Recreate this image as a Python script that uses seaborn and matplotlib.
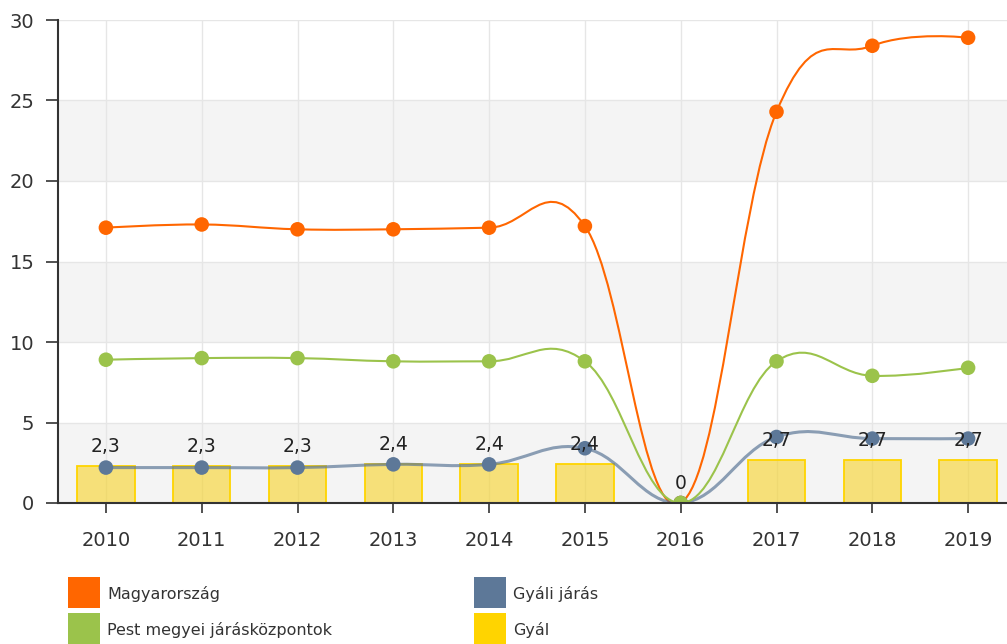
import numpy as np
import pandas as pd
import matplotlib
matplotlib.use("Agg")
import matplotlib.pyplot as plt
from matplotlib.path import Path
from matplotlib.patches import PathPatch, Rectangle
from matplotlib.colors import to_rgba
import seaborn as sns

years = ["2010", "2011", "2012", "2013", "2014", "2015", "2016", "2017", "2018", "2019"]
magyarorszag = [17.1, 17.3, 17.0, 17.0, 17.1, 17.2, 0.0, 24.3, 28.4, 28.9]
pest_megyei = [8.9, 9.0, 9.0, 8.8, 8.8, 8.8, 0.0, 8.8, 7.9, 8.4]
gyali_jaras = [2.2, 2.2, 2.2, 2.4, 2.4, 3.4, 0.0, 4.1, 4.0, 4.0]
gyal = [2.3, 2.3, 2.3, 2.4, 2.4, 2.4, 0.0, 2.7, 2.7, 2.7]
y_ticks = [0, 5, 10, 15, 20, 25, 30]
legend_labels = ["Magyarország", "Pest megyei járásközpontok", "Gyáli járás", "Gyál"]

C_ORANGE = "#FF6600"
C_GREEN = "#9BC34B"
C_BLUE = "#5D7898"
C_YELLOW = "#FFD400"

sns.set_theme(style="white")
plt.rcParams["font.family"] = ["DejaVu Sans"]

W, H = 1007, 644
fig = plt.figure(figsize=(W / 100, H / 100), dpi=100)
ax = fig.add_axes([58 / W, 141 / H, 958 / W, 483 / H])

df = pd.DataFrame({"year": years, "Gyál": gyal})
sns.barplot(data=df, x="year", y="Gyál", ax=ax, color=C_YELLOW, width=0.6,
            saturation=1, linewidth=1.3, zorder=2)
for p in list(ax.patches):
    p.set_alpha(None)
    p.set_facecolor(to_rgba("#F8CE00", 0.5))
    p.set_edgecolor(C_YELLOW)
    p.set_zorder(2)

# alternating bands and grid
for lo in (0, 10, 20):
    ax.axhspan(lo, lo + 5, color="#F4F4F4", zorder=0, lw=0)
for yv in y_ticks:
    ax.axhline(yv, color="#E6E6E6", lw=1, zorder=0.5)
for i in range(len(years)):
    ax.axvline(i, color="#E6E6E6", lw=1, zorder=0.5)


def spline_path(xs, ys):
    s, d = 1.5, 2.5
    n = len(xs)
    lc = [None] * n
    rc = [None] * n
    for i in range(1, n - 1):
        px, py = xs[i], ys[i]
        lx, ly = xs[i - 1], ys[i - 1]
        nx, ny = xs[i + 1], ys[i + 1]
        lcx = (s * px + lx) / d
        lcy = (s * py + ly) / d
        rcx = (s * px + nx) / d
        rcy = (s * py + ny) / d
        corr = ((rcy - lcy) * (rcx - px)) / (rcx - lcx) + py - rcy
        lc[i] = (lcx, lcy + corr)
        rc[i] = (rcx, rcy + corr)
    verts = [(xs[0], ys[0])]
    codes = [Path.MOVETO]
    for i in range(1, n):
        c1 = rc[i - 1] if rc[i - 1] is not None else (xs[i - 1], ys[i - 1])
        c2 = lc[i] if lc[i] is not None else (xs[i], ys[i])
        verts += [c1, c2, (xs[i], ys[i])]
        codes += [Path.CURVE4] * 3
    return Path(verts, codes)


xs = list(range(len(years)))
series = [
    ("Magyarország", magyarorszag, C_ORANGE, 3.0),
    ("Gyáli járás", gyali_jaras, C_BLUE, 3.2),
    ("Pest megyei járásközpontok", pest_megyei, C_GREEN, 3.4),
]
for name, vals, col, z in series:
    lw = 2.2 if col == C_BLUE else 1.5
    alpha = 0.7 if col == C_BLUE else 1
    ax.add_patch(PathPatch(spline_path(xs, vals), facecolor="none", edgecolor=col,
                           lw=lw, alpha=alpha, zorder=z))
    sns.scatterplot(x=xs, y=vals, ax=ax, color=col, s=110, edgecolor="none",
                    zorder=z + 0.05, legend=False)

for i, v in enumerate(gyal):
    lab = ("%.1f" % v).replace(".", ",") if v != 0 else "0"
    ax.annotate(lab, (i, v), xytext=(0, 14), textcoords="offset points",
                ha="center", va="center", fontsize=13.5, color="#222222", zorder=5)

ax.set_xlim(-0.5, 9.5)
ax.set_ylim(0, 30)
ax.set_yticks(y_ticks)
ax.set_xticks(xs)
ax.set_xticklabels(years)
ax.set_xlabel("")
ax.set_ylabel("")
ax.tick_params(axis="both", labelsize=14, labelcolor="#333333", colors="#333333")
ax.tick_params(axis="y", direction="out", length=9, width=1.2, left=True, pad=8)
ax.tick_params(axis="x", direction="out", length=7, width=1.2, bottom=True, pad=13)
for sp in ("top", "right"):
    ax.spines[sp].set_visible(False)
for sp in ("left", "bottom"):
    ax.spines[sp].set_color("#333333")
    ax.spines[sp].set_linewidth(1.5)
    ax.spines[sp].set_zorder(6)

# legend: two columns, square swatches
legend_colors = [C_ORANGE, C_GREEN, C_BLUE, C_YELLOW]
col_x = [68, 474]
row_top = [577, 613]
for k, (lab, col) in enumerate(zip(legend_labels, legend_colors)):
    cx = col_x[k // 2]
    ry = row_top[k % 2]
    fig.add_artist(Rectangle((cx / W, 1 - (ry + 31) / H), 32 / W, 31 / H,
                             transform=fig.transFigure, facecolor=col, edgecolor="none"))
    fig.text((cx + 39) / W, 1 - (ry + 17) / H, lab, ha="left", va="center",
             fontsize=11.5, color="#333333")

fig.savefig("out.png", dpi=100)
